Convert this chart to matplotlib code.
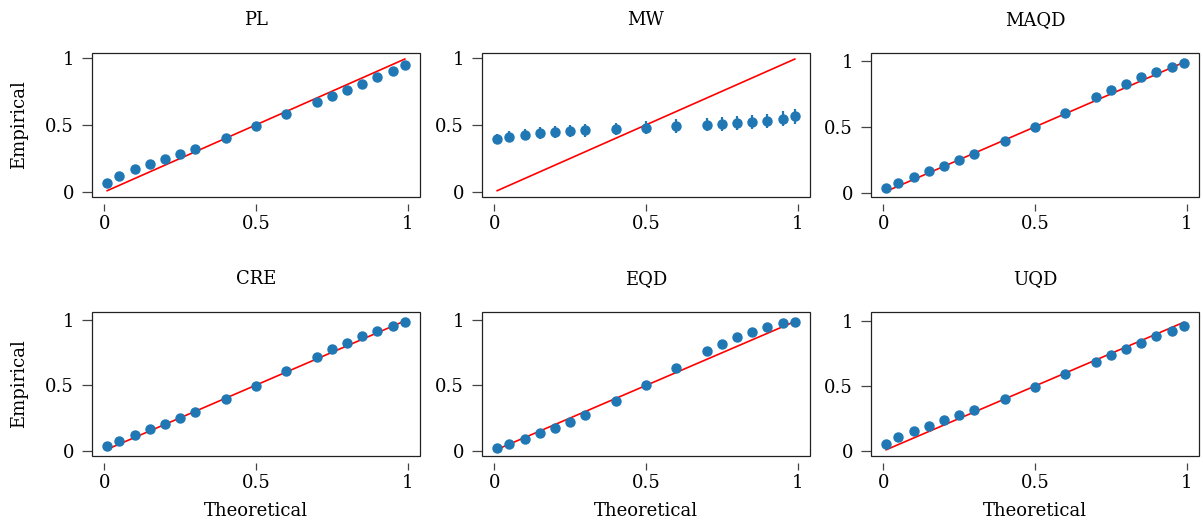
import numpy as np
import matplotlib.pyplot as plt
from matplotlib.patches import Rectangle

plt.rcParams['font.family'] = ['DejaVu Serif']
plt.rcParams['font.size'] = 13

# probabilidades teoricas
teorico = [0.01, 0.05, 0.1, 0.15, 0.2, 0.25, 0.3, 0.4, 0.5, 0.6,
           0.7, 0.75, 0.8, 0.85, 0.9, 0.95, 0.99]

titulos = ['PL', 'MW', 'MAQD', 'CRE', 'EQD', 'UQD']

pl = [0.067, 0.121, 0.168, 0.207, 0.249, 0.286, 0.323, 0.402, 0.489, 0.580,
      0.669, 0.714, 0.760, 0.807, 0.857, 0.904, 0.948]
mw = [0.395, 0.412, 0.427, 0.440, 0.447, 0.454, 0.459, 0.469, 0.479, 0.491,
      0.501, 0.506, 0.514, 0.523, 0.531, 0.546, 0.565]
maqd = [0.035, 0.073, 0.116, 0.162, 0.205, 0.251, 0.294, 0.392, 0.496, 0.608,
        0.724, 0.780, 0.828, 0.878, 0.916, 0.954, 0.982]
cre = [0.036, 0.076, 0.119, 0.165, 0.206, 0.251, 0.297, 0.391, 0.495, 0.607,
       0.718, 0.772, 0.825, 0.873, 0.911, 0.952, 0.980]
eqd = [0.018, 0.051, 0.091, 0.132, 0.175, 0.223, 0.274, 0.383, 0.503, 0.632,
       0.761, 0.817, 0.871, 0.911, 0.947, 0.975, 0.990]
uqd = [0.056, 0.108, 0.154, 0.195, 0.236, 0.274, 0.318, 0.403, 0.492, 0.590,
       0.687, 0.738, 0.785, 0.833, 0.882, 0.923, 0.964]

# barras de erro
err_pl = [0.010, 0.010, 0.010, 0.010, 0.011, 0.011, 0.011, 0.012, 0.012, 0.013,
          0.013, 0.014, 0.014, 0.015, 0.016, 0.017, 0.018]
err_mw = [0.040, 0.042, 0.043, 0.044, 0.045, 0.046, 0.046, 0.047, 0.048, 0.049,
          0.050, 0.050, 0.051, 0.052, 0.053, 0.054, 0.056]
err_uqd = [0.008, 0.008, 0.008, 0.008, 0.008, 0.009, 0.009, 0.009, 0.010, 0.010,
           0.010, 0.011, 0.011, 0.012, 0.012, 0.013, 0.014]

dados = [pl, mw, maqd, cre, eqd, uqd]
erros = [err_pl, err_mw, None, None, None, err_uqd]
ylims = [(-0.037, 1.035), (-0.037, 1.035), (-0.033, 1.061),
         (-0.041, 1.058), (-0.041, 1.063), (-0.038, 1.069)]

fig = plt.figure(figsize=(12.03, 5.25), dpi=100)
W, H = 1203, 525
lefts = [92, 482, 871]
largura = 328
tops = [53, 312]
altura = 144

for k in range(6):
    lin, col = k // 3, k % 3
    ax = fig.add_axes([lefts[col] / W, 1 - (tops[lin] + altura) / H, largura / W, altura / H])

    ax.plot(teorico, teorico, color='red', lw=1.2, zorder=2)
    ax.errorbar(teorico, dados[k], yerr=erros[k], fmt='o', color='#1f77b4',
                ms=6.5, elinewidth=1.6, capsize=0, zorder=3)

    ax.set_xlim(-0.04, 1.04)
    ax.set_ylim(*ylims[k])
    ax.set_xticks([0, 0.5, 1])
    ax.set_xticklabels(['0', '0.5', '1'])
    ax.set_yticks([0, 0.5, 1])
    ax.set_yticklabels(['0', '0.5', '1'])

    # moldura com eixo x destacado
    for s in ax.spines.values():
        s.set_visible(False)
    ax.spines['bottom'].set_position(('outward', 5))
    ax.add_patch(Rectangle((0, 0), 1, 1, transform=ax.transAxes, fill=False,
                           lw=0.9, edgecolor='#222222', clip_on=False, zorder=5))
    ax.tick_params(axis='x', length=5, width=0.9, color='#444444', pad=3)
    ax.tick_params(axis='y', length=7, width=0.9, color='#444444', pad=6)

    ax.set_title(titulos[k], fontsize=13, pad=20)
    if col == 0:
        ax.set_ylabel('Empirical', fontsize=13, labelpad=12)
    if lin == 1:
        ax.set_xlabel('Theoretical', fontsize=13, labelpad=7)

fig.savefig('out.png', dpi=100)
